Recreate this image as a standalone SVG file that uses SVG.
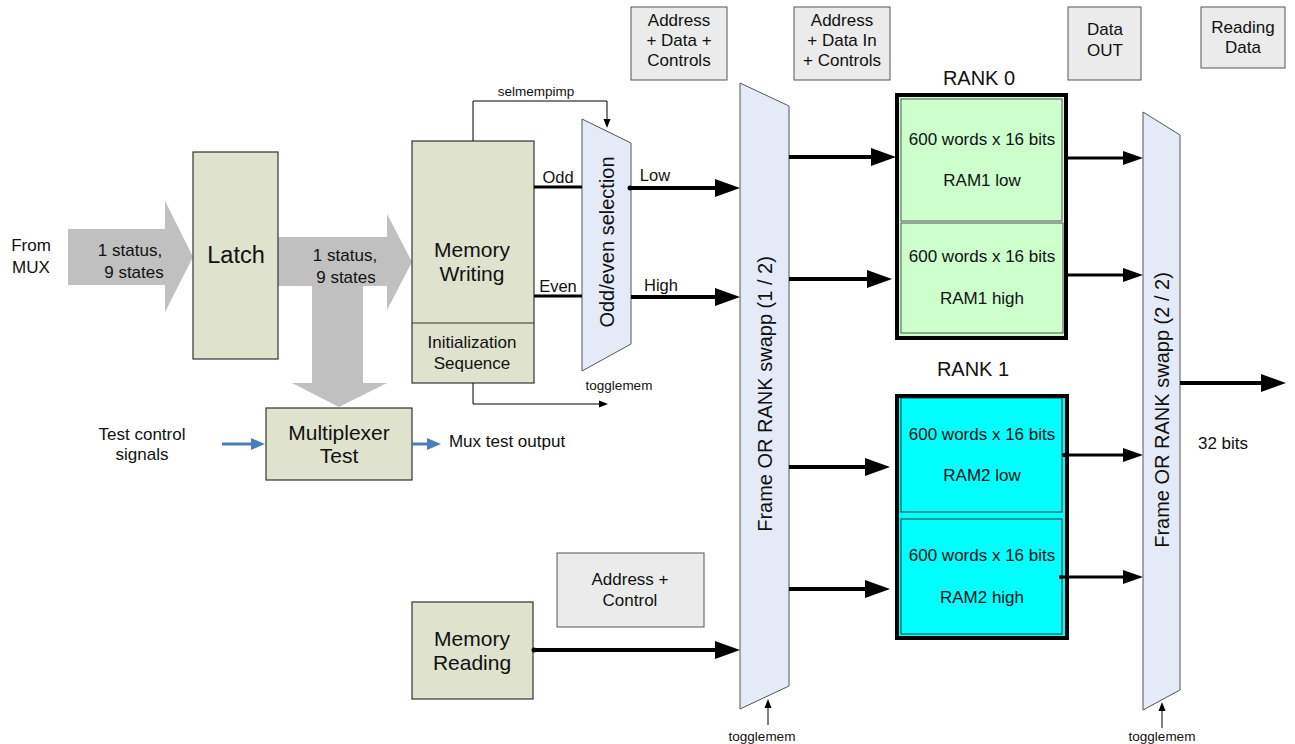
<svg xmlns="http://www.w3.org/2000/svg" width="1295" height="744" viewBox="0 0 1295 744">
<style>
text{font-family:"Liberation Sans",Arial,sans-serif;fill:#111;text-anchor:middle;dominant-baseline:central}
.blk{fill:#dfe2cc;stroke:#333;stroke-width:1.2}
.gbox{fill:#ebebeb;stroke:#555;stroke-width:1}
.trap{fill:#e5ebf6;stroke:#555;stroke-width:1}
.garr{fill:#c0c0c0}
.f17{font-size:17px}
.f13{font-size:13.5px}
.f21{font-size:21px}
.f20{font-size:20px}
.thick{stroke:#000;stroke-width:4;fill:none;marker-end:url(#ahBig)}
.med{stroke:#000;stroke-width:3;fill:none;marker-end:url(#ahMed)}
.thin{stroke:#000;stroke-width:1;fill:none;marker-end:url(#ahThin)}
.wire{stroke:#000;stroke-width:3;fill:none}
.blue{stroke:#4a7ebb;stroke-width:3;fill:none;marker-end:url(#ahBlue)}
</style>
<defs>
<marker id="ahBig" markerUnits="userSpaceOnUse" markerWidth="28" markerHeight="20" refX="1" refY="9" orient="auto" overflow="visible"><path d="M0,0 L25,9 L0,18 z" fill="#000"/></marker>
<marker id="ahMed" markerUnits="userSpaceOnUse" markerWidth="22" markerHeight="16" refX="1" refY="7" orient="auto" overflow="visible"><path d="M0,0 L20,7 L0,14 z" fill="#000"/></marker>
<marker id="ahThin" markerUnits="userSpaceOnUse" markerWidth="10" markerHeight="8" refX="1" refY="3.5" orient="auto" overflow="visible"><path d="M0,0 L9,3.5 L0,7 z" fill="#000"/></marker>
<marker id="ahBlue" markerUnits="userSpaceOnUse" markerWidth="16" markerHeight="14" refX="1" refY="6" orient="auto" overflow="visible"><path d="M0,0 L14,6 L0,12 z" fill="#4a7ebb"/></marker>
</defs>

<g id="bus-arrows">
<polygon class="garr" points="68,229 165,229 165,201 193,257 165,312 165,285 68,285"/>
<polygon class="garr" points="278,237 387,237 387,214 412,262 387,310 387,286 278,286"/>
<polygon class="garr" points="312,286 363,286 363,383 387,383 339,407 292,383 312,383"/>
</g>

<g id="labels">
<text class="f17" x="31" y="245">From</text>
<text class="f17" x="31" y="267">MUX</text>
<text class="f17" x="130" y="250">1 status,</text>
<text class="f17" x="134" y="272">9 states</text>
<text class="f17" x="345" y="255">1 status,</text>
<text class="f17" x="346" y="277">9 states</text>
<text class="f17" x="142" y="434">Test control</text>
<text class="f17" x="142" y="454">signals</text>
<text class="f17" x="507" y="441">Mux test output</text>
<text class="f13" x="536" y="91">selmempimp</text>
<text style="font-size:16.5px" x="558" y="177">Odd</text>
<text style="font-size:16.5px" x="558" y="286">Even</text>
<text style="font-size:16.5px" x="655" y="175">Low</text>
<text style="font-size:16.5px" x="661" y="285">High</text>
<text class="f13" x="619" y="385">togglemem</text>
<text class="f13" x="762" y="736">togglemem</text>
<text class="f13" x="1162" y="736">togglemem</text>
<text class="f17" x="1223" y="443">32 bits</text>
<text style="font-size:20px" x="979" y="78">RANK 0</text>
<text style="font-size:20px" x="973" y="369">RANK 1</text>
</g>

<g id="latch">
<rect class="blk" x="193" y="152" width="85" height="207"/>
<text style="font-size:23.5px" x="236" y="255">Latch</text>
</g>

<g id="memory-writing">
<rect class="blk" x="412" y="141" width="122" height="242"/>
<line x1="412" y1="323" x2="534" y2="323" stroke="#333" stroke-width="1.2"/>
<text class="f21" x="472" y="249">Memory</text>
<text class="f21" x="472" y="273">Writing</text>
<text class="f17" x="472" y="342">Initialization</text>
<text class="f17" x="472" y="363">Sequence</text>
</g>

<g id="mux-test">
<rect class="blk" x="266" y="408" width="146" height="72"/>
<text class="f21" x="339" y="432">Multiplexer</text>
<text class="f21" x="339" y="455">Test</text>
</g>

<g id="memory-reading">
<rect class="blk" x="412" y="602" width="121" height="97"/>
<text class="f21" x="472" y="638">Memory</text>
<text class="f21" x="472" y="662">Reading</text>
</g>

<g id="odd-even">
<polygon class="trap" points="582,119 631,143 631,344 582,371"/>
<text class="f20" transform="translate(607,242) rotate(-90)">Odd/even selection</text>
</g>

<g id="swap1">
<polygon class="trap" points="740,83 789,106 789,686 740,709"/>
<text class="f20" transform="translate(765,394) rotate(-90)">Frame OR RANK swapp (1 / 2)</text>
</g>

<g id="swap2">
<polygon class="trap" points="1143,112 1180,135 1180,690 1143,710"/>
<text class="f20" transform="translate(1162,410) rotate(-90)">Frame OR RANK swapp (2 / 2)</text>
</g>

<g id="box-adc">
<rect class="gbox" x="631" y="7" width="96" height="73"/>
<text class="f17" x="679" y="20">Address</text>
<text class="f17" x="679" y="40">+ Data +</text>
<text class="f17" x="679" y="60">Controls</text>
</g>
<g id="box-adic">
<rect class="gbox" x="794" y="7" width="96" height="73"/>
<text class="f17" x="842" y="20">Address</text>
<text class="f17" x="842" y="40">+ Data In</text>
<text class="f17" x="842" y="60">+ Controls</text>
</g>
<g id="box-dataout">
<rect class="gbox" x="1068" y="7" width="73" height="73"/>
<text class="f17" x="1105" y="29">Data</text>
<text class="f17" x="1105" y="50">OUT</text>
</g>
<g id="box-readingdata">
<rect class="gbox" x="1201" y="7" width="84" height="61"/>
<text class="f17" x="1243" y="27">Reading</text>
<text class="f17" x="1243" y="47">Data</text>
</g>
<g id="box-addrctrl">
<rect class="gbox" x="557" y="553" width="147" height="74"/>
<text class="f17" x="630" y="579">Address +</text>
<text class="f17" x="630" y="600">Control</text>
</g>

<g id="rank0">
<rect x="897" y="95" width="169" height="243" fill="#ccffcc" stroke="#000" stroke-width="4"/>
<rect x="901" y="99" width="161" height="122" fill="#ccffcc" stroke="#555" stroke-width="1"/>
<rect x="901" y="223" width="162" height="110" fill="#ccffcc" stroke="#555" stroke-width="1"/>
<text class="f17" x="982" y="139">600 words x 16 bits</text>
<text class="f17" x="982" y="180">RAM1 low</text>
<text class="f17" x="982" y="256">600 words x 16 bits</text>
<text class="f17" x="982" y="298">RAM1 high</text>
</g>

<g id="rank1">
<rect x="897" y="396" width="170" height="242" fill="#00ffff" stroke="#000" stroke-width="4"/>
<rect x="901" y="398" width="161" height="114" fill="#00ffff" stroke="#333" stroke-width="1"/>
<rect x="901" y="519" width="161" height="115" fill="#00ffff" stroke="#333" stroke-width="1"/>
<text class="f17" x="982" y="434">600 words x 16 bits</text>
<text class="f17" x="982" y="475">RAM2 low</text>
<text class="f17" x="982" y="555">600 words x 16 bits</text>
<text class="f17" x="982" y="597">RAM2 high</text>
</g>

<g id="connectors">
<polyline class="thin" points="473,141 473,101 607,101 607,120"/>
<polyline class="thin" points="473,383 473,404 600,404"/>
<line class="wire" x1="534" y1="187" x2="582" y2="187"/>
<line class="wire" x1="534" y1="296" x2="582" y2="296"/>
<line class="thick" x1="629" y1="188" x2="716" y2="188"/>
<circle cx="630" cy="188" r="2.5"/>
<line class="thick" x1="631" y1="297" x2="716" y2="297"/>
<line class="thick" x1="533" y1="650" x2="716" y2="650"/>
<circle cx="534" cy="650" r="2.5"/>
<line class="thick" x1="789" y1="157" x2="872" y2="157"/>
<line class="thick" x1="789" y1="279" x2="868" y2="279"/>
<line class="thick" x1="789" y1="467" x2="866" y2="467"/>
<line class="thick" x1="789" y1="589" x2="866" y2="589"/>
<line class="med" x1="1066" y1="158" x2="1124" y2="158"/>
<line class="med" x1="1066" y1="275" x2="1124" y2="275"/>
<line class="med" x1="1063" y1="455" x2="1124" y2="455"/>
<circle cx="1064" cy="455" r="2"/>
<line class="med" x1="1060" y1="577" x2="1124" y2="577"/>
<circle cx="1061" cy="577" r="2"/>
<line class="thick" x1="1180" y1="383" x2="1262" y2="383"/>
<line class="thin" x1="768" y1="725" x2="768" y2="707"/>
<line class="thin" x1="1162" y1="728" x2="1162" y2="710"/>
<line class="blue" x1="222" y1="444" x2="252" y2="444"/>
<line class="blue" x1="412" y1="444" x2="428" y2="444"/>
</g>
</svg>
